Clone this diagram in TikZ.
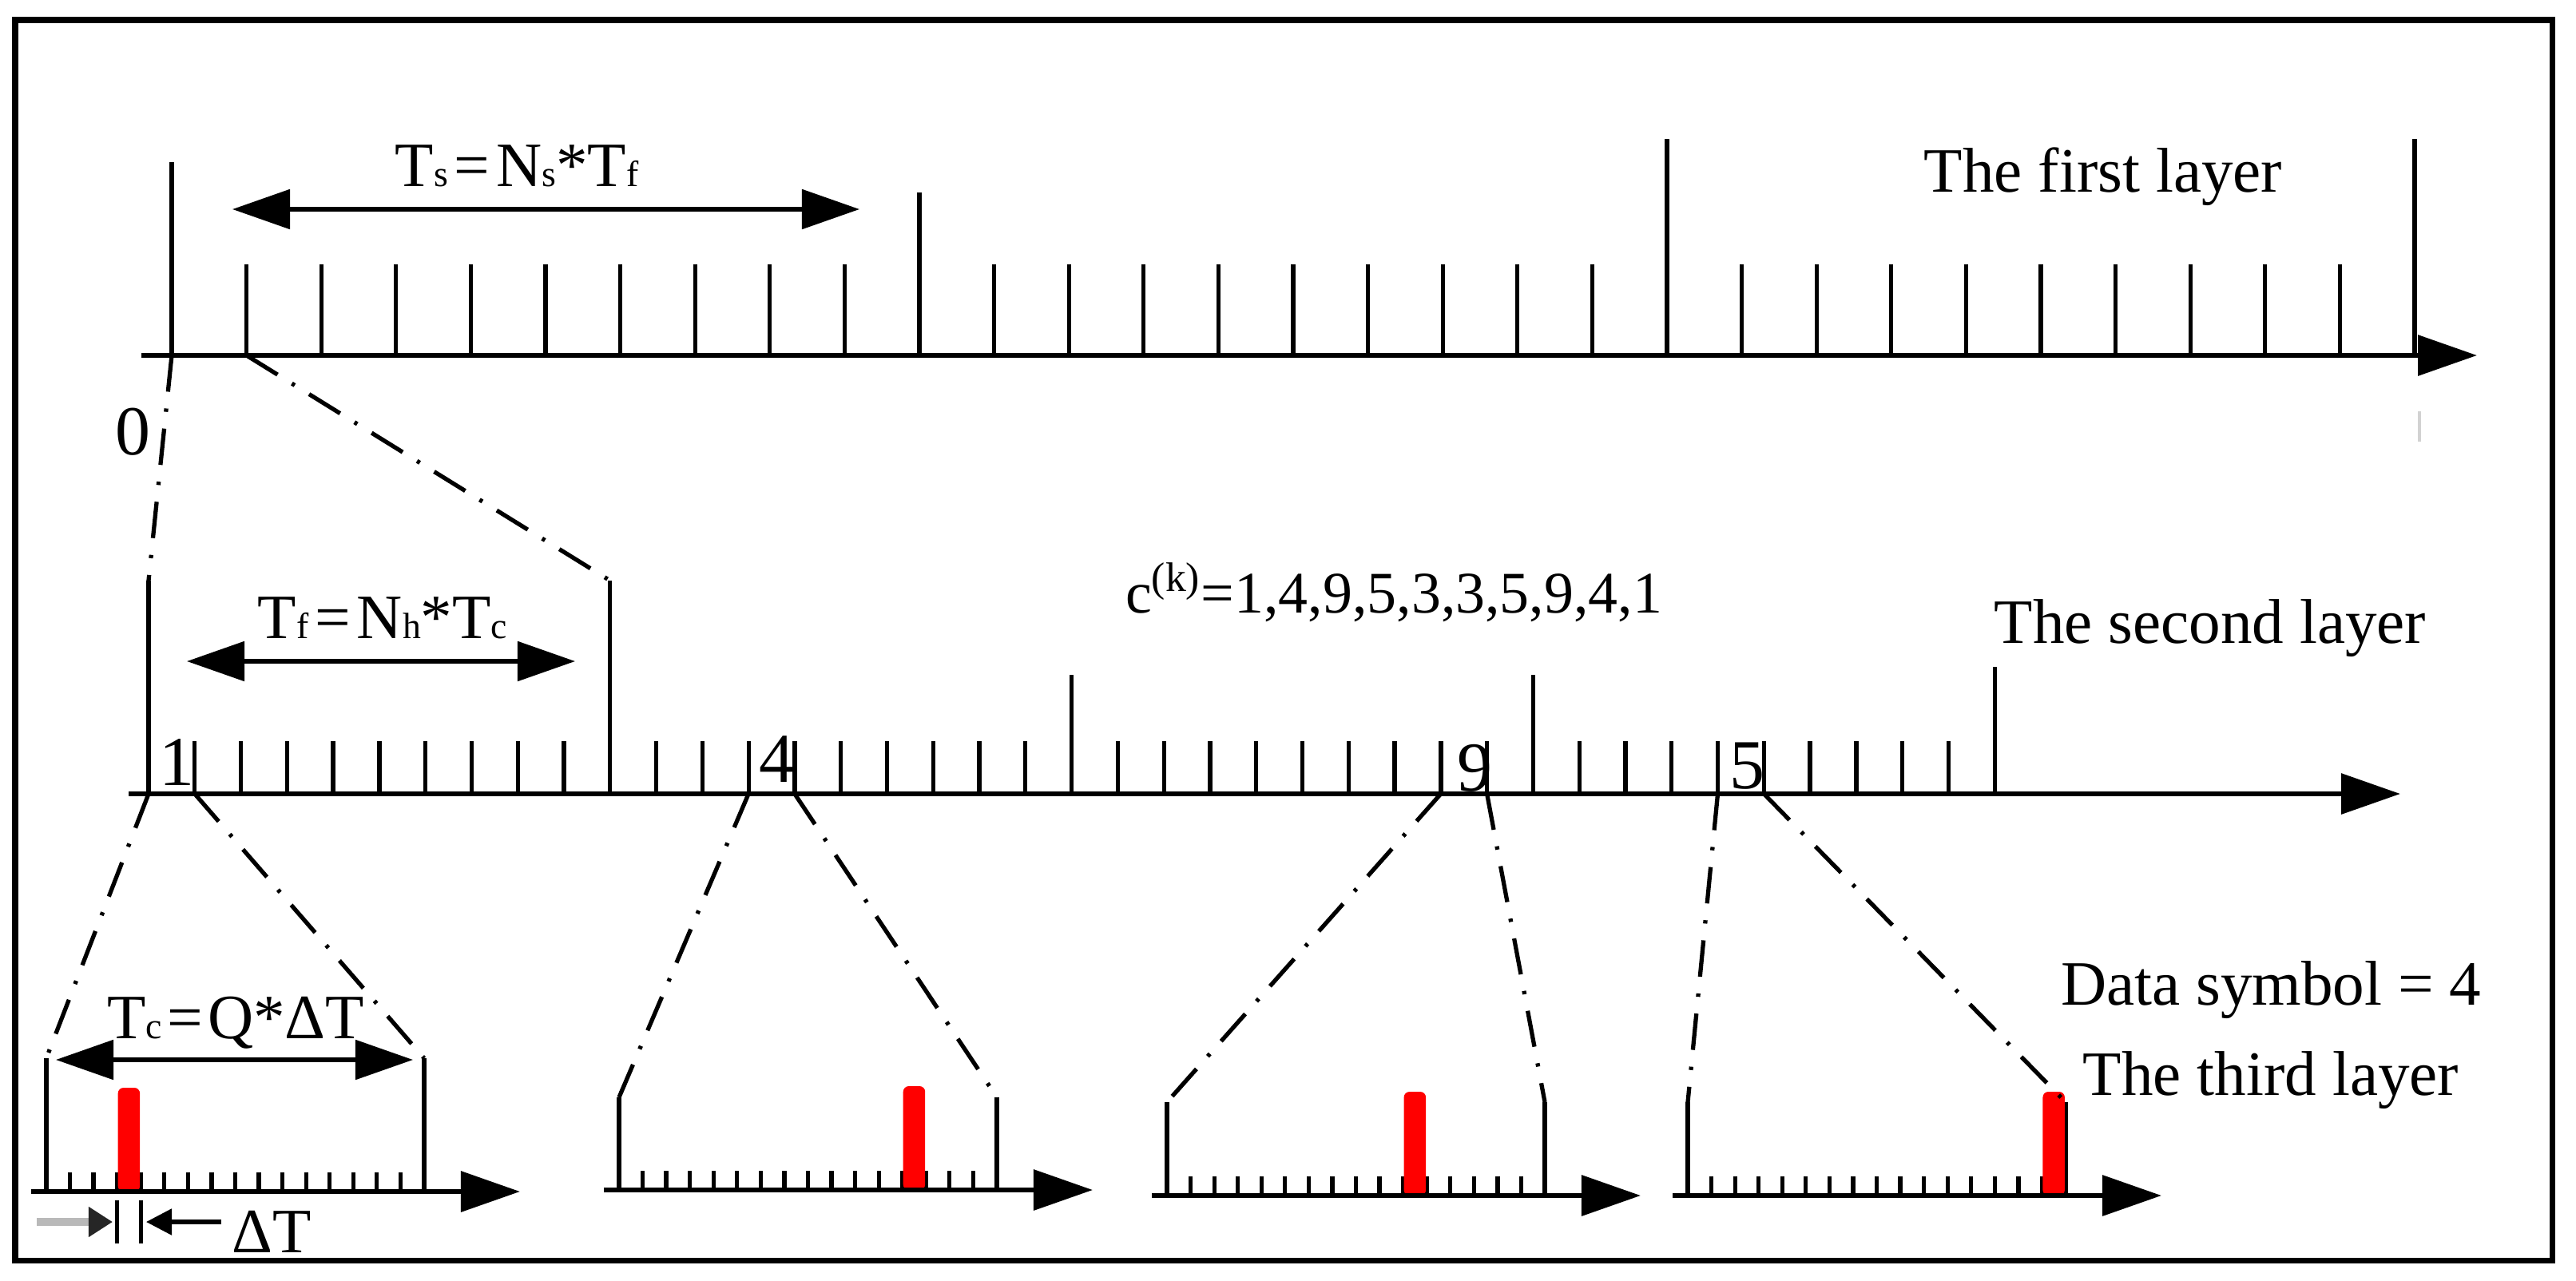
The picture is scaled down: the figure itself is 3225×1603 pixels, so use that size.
\documentclass[tikz,border=0pt]{standalone}
\usepackage{fontspec}
\setmainfont{Liberation Serif}
\usetikzlibrary{arrows.meta,positioning}

\newcommand{\subsc}[1]{{\fontsize{13}{13}\selectfont #1}}

\tikzset{
  axisline/.style={line width=1.8pt, -{Triangle[length=0.74cm,width=0.5cm]}},
  tick/.style={line width=1.5pt},
  zoomline/.style={line width=1.5pt, dash pattern=on 13pt off 6pt on 1.2pt off 6pt},
  span/.style={line width=1.5pt, {Triangle[length=0.72cm,width=0.49cm]}-{Triangle[length=0.72cm,width=0.49cm]}},
  lbl/.style={inner sep=0pt, anchor=base, font=\fontsize{22.5}{27}\selectfont},
  digit/.style={inner sep=0pt, anchor=base, font=\fontsize{25}{30}\selectfont},
  chip/.style={fill=red, rounded corners=2pt}
}

\begin{document}
\begin{tikzpicture}[x=0.01cm,y=-0.01cm]
\useasboundingbox (0,0) rectangle (3225,1603);
\draw[line width=2pt] (19,25) rectangle (3195,1578);

\foreach \g in {0,1,2}
  \foreach \k in {1,...,9}
    \draw[tick] (215+93.6*10*\g+93.6*\k,445) -- ++(0,-114);
\foreach \k/\top in {0/203,10/241,20/174,30/174}
  \draw[tick] (215+93.6*\k,445) -- (215+93.6*\k,\top);
\draw[axisline] (177,445) -- (3101,445);
\draw[gray!35, line width=1pt] (3029,515) -- (3029,553);

\coordinate (f0) at (215,445);
\coordinate (f1) at (308.6,445);
\coordinate (tsL) at (291,262);
\coordinate (tsR) at (1076,262);
\draw[span] (tsL) -- (tsR);
\node[lbl] (ts) at (647,234) {T\subsc{s}\hspace{0.1em}=\hspace{0.1em}N\subsc{s}*T\subsc{f}};
\node[lbl] (first) at (2633,241) {The first layer};
\node[digit] (zero) at (166,569) {0};

\foreach \g in {0,...,3}
  \foreach \k in {1,...,9}
    \draw[tick] (186+577.8*\g+57.78*\k,994) -- ++(0,-66);
\foreach \k/\top in {0/727,10/727,20/845,30/845,40/835}
  \draw[tick] (186+57.78*\k,994) -- (186+57.78*\k,\top) coordinate (t\k);
\draw[axisline] (161,994) -- (3005,994);

\coordinate (s0) at (186,994);
\coordinate (s1) at (243.8,994);
\coordinate (s13) at (937.1,994);
\coordinate (s14) at (994.9,994);
\coordinate (s28) at (1803.8,994);
\coordinate (s29) at (1861.6,994);
\coordinate (s34) at (2150.5,994);
\coordinate (s35) at (2208.3,994);
\coordinate (tfL) at (234,828);
\coordinate (tfR) at (720,828);
\draw[span] (tfL) -- (tfR);
\node[lbl] (tf) at (479,799) {T\subsc{f}\hspace{0.1em}=\hspace{0.1em}N\subsc{h}*T\subsc{c}};
\node[lbl, font=\fontsize{21}{25}\selectfont] (code) at (1745,767) {c\textsuperscript{(k)}=1,4,9,5,3,3,5,9,4,1};
\node[lbl] (second) at (2767,805) {The second layer};
\node[digit] (one) at (221,983) {1};
\node[digit] (four) at (972,979) {4};
\node[digit] (nine) at (1846,990) {9};
\node[digit] (five) at (2187,987) {5};

\draw[zoomline] (f0) -- (t0);
\draw[zoomline] (f1) -- (t10);

\foreach \gx/\gy/\gt/\gr [count=\i] in {58/1492/1325/3,775/1490/1374/12,1461/1497/1380/10,2113/1497/1380/15} {
  \foreach \k in {1,...,15}
    \draw[tick] (\gx+29.56*\k,\gy) -- ++(0,-24);
  \draw[tick] (\gx,\gy) -- (\gx,\gt) coordinate (gl\i);
  \draw[tick] (\gx+473,\gy) -- (\gx+473,\gt) coordinate (gr\i);
  \fill[chip] (\gx+29.56*\gr+1,\gy) rectangle (\gx+29.56*\gr+28.5,\gy-130);
  \draw[axisline] (\gx-19,\gy) -- (\gx+593,\gy);
}

\draw[zoomline] (s0) -- (gl1);
\draw[zoomline] (s1) -- (gr1);
\draw[zoomline] (s13) -- (gl2);
\draw[zoomline] (s14) -- (gr2);
\draw[zoomline] (s28) -- (gl3);
\draw[zoomline] (s29) -- (gr3);
\draw[zoomline] (s34) -- (gl4);
\draw[zoomline] (s35) -- (gr4);

\coordinate (tcL) at (70,1327);
\coordinate (tcR) at (517,1327);
\draw[span] (tcL) -- (tcR);
\node[lbl] (tc) at (295,1300) {T\subsc{c}\hspace{0.08em}=\hspace{0.08em}Q*ΔT};

\draw[tick] (146.7,1503) -- (146.7,1557);
\draw[tick] (176.2,1503) -- (176.2,1557);
\coordinate (dtA) at (46,1530);
\coordinate (dtB) at (141,1530);
\coordinate (dtC) at (277,1530);
\coordinate (dtD) at (183,1530);
\draw[line width=3pt, gray!55, -{Triangle[length=0.3cm,width=0.36cm,color=black!85]}] (dtA) -- (dtB);
\draw[line width=1.5pt, -{Triangle[length=0.32cm,width=0.32cm]}] (dtC) -- (dtD);
\node[lbl, anchor=base west] (dt) at (290,1568) {ΔT};

\node[lbl] (data) at (2843,1258) {Data symbol = 4};
\node[lbl] (third) at (2843,1371) {The third layer};
\end{tikzpicture}
\end{document}
